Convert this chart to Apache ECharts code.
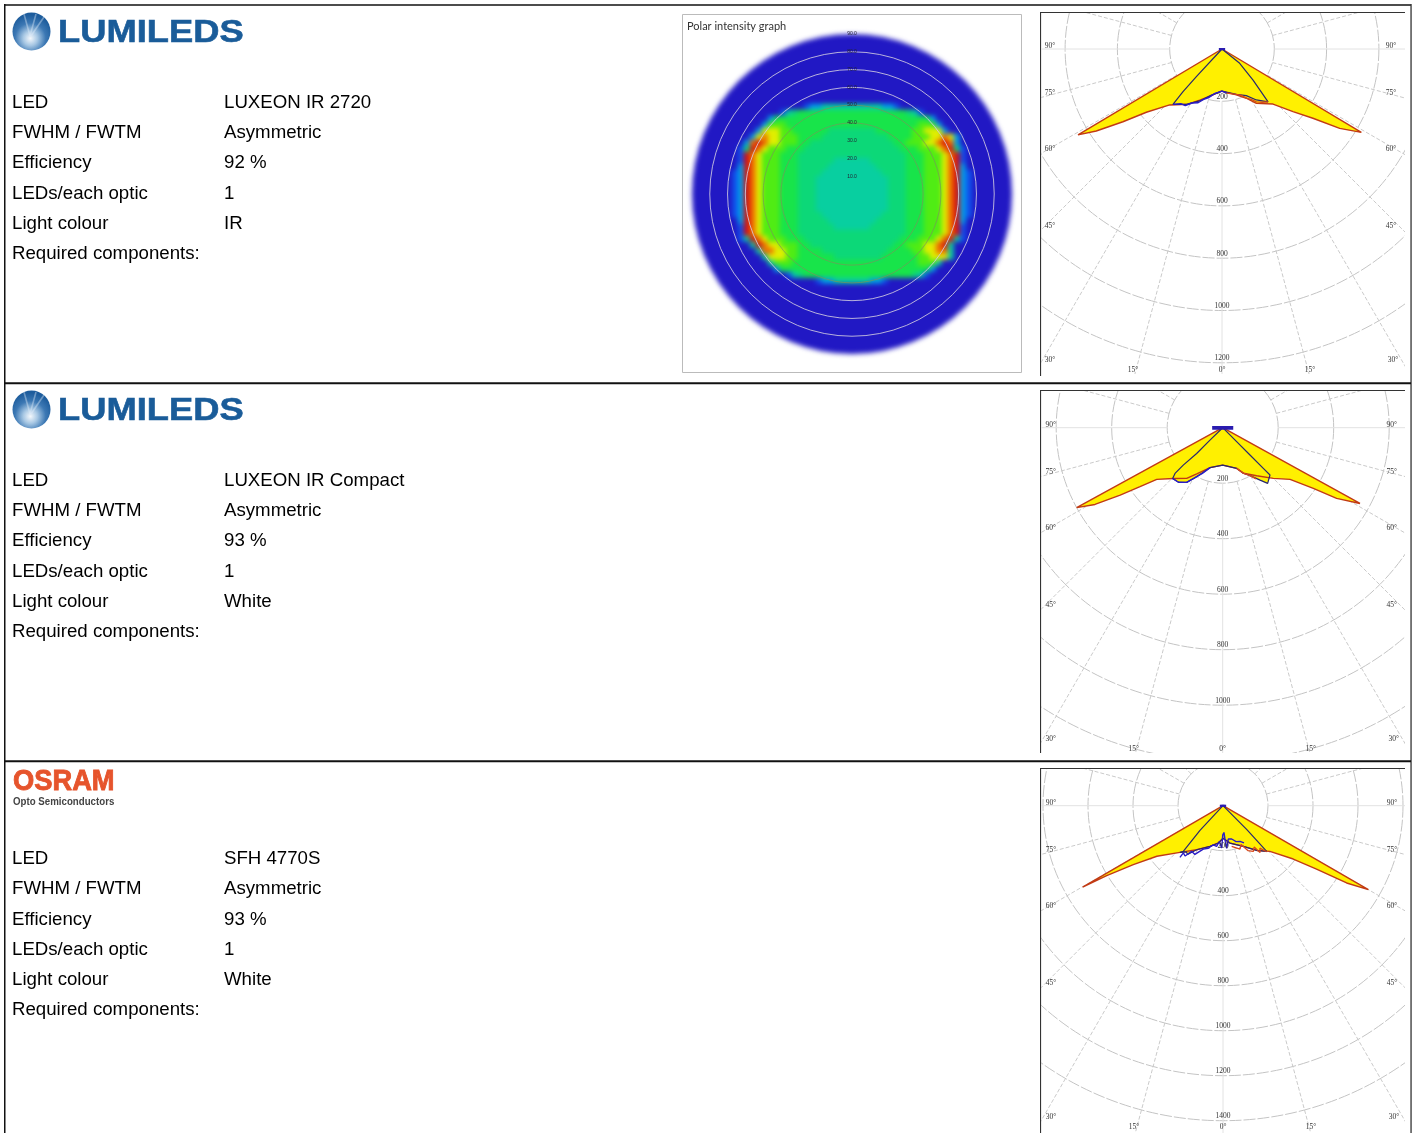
<!DOCTYPE html>
<html><head><meta charset="utf-8">
<style>
html,body{margin:0;padding:0;background:#fff;overflow:hidden}
.c{position:absolute}
</style>
<script src="https://cdn.jsdelivr.net/npm/echarts@6/dist/echarts.min.js"></script>
</head><body>
<div id="page" class="c" style="left:0;top:0;width:1415px;height:1133px"></div>
<div id="heat" class="c" style="left:682px;top:14px;width:340px;height:359px;filter:blur(2.4px)"></div>
<div id="heatTop" class="c" style="left:682px;top:14px;width:340px;height:359px;filter:blur(.5px)"></div>
<div id="p1" class="c" style="left:1041px;top:13px;width:364px;height:361px;filter:blur(.6px)"></div>
<div id="p2" class="c" style="left:1041px;top:391px;width:364px;height:362px;filter:blur(.6px)"></div>
<div id="p3" class="c" style="left:1041px;top:769px;width:364px;height:364px;filter:blur(.6px)"></div>
<script>
// ---------- table text ----------
const fieldLabels = ['LED','FWHM / FWTM','Efficiency','LEDs/each optic','Light colour','Required components:'];
const ledValues = [
  ['LUXEON IR 2720','Asymmetric','92 %','1','IR'],
  ['LUXEON IR Compact','Asymmetric','93 %','1','White'],
  ['SFH 4770S','Asymmetric','93 %','1','White']
];
// ---------- polar curves, each point [intensity cd, angle deg] ----------
const p1Outer = [[0,-59.2],[641,-59.2],[574,-56.9],[470,-53.7],[377,-50.1],[293,-43.1],[248,-31.6],[213,-23.6],[183,-12.9],[161,-0.9],[184,17.3],[210,26.3],[246,32.3],[287,42.8],[362,48.6],[437,52.7],[543,56],[621,59.1],[0,59.1]];
const p1Inner = [[0,-42],[144,-42.9],[221,-42.4],[283,-41.5],[252,-32.8],[216,-23.2],[181,-13],[161,0],[182,17.5],[201,27.5],[235,34],[268,41.1],[168,45],[87,51],[0,52]];
const p1Blue  = [[283,-41.5],[262,-37],[258,-33],[236,-29],[225,-24],[205,-20],[192,-15],[172,-9],[161,0],[170,6]];
const p1Warm  = [[170,6],[182,17.5],[190,22],[212,27],[222,30],[241,33],[255,37],[268,41.1]];
const p1Apex  = [[12,-88],[0,0],[12,88]];
const p1Rings = [200,400,600,800,1000,1200];
const p1Ticks = [200,400,600,800,1000,1200];

const p2Outer = [[0,-61.3],[600,-61.3],[537,-59],[442,-56.7],[366,-54.5],[302,-51.9],[255,-44.2],[224,-35.4],[191,-29.3],[151,-17.6],[135,0],[155,19],[180,24.4],[212,35.3],[258,45],[306,52.5],[393,56.2],[483,58.2],[565,61.1],[0,61.1]];
const p2Inner = [[0,-46],[64,-45.8],[132,-45.3],[196,-46.5],[238,-46.2],[257,-44.6],[253,-39],[236,-33.4],[206,-29],[151,-17.6],[135,0],[155,19],[180,24.4],[199,29.7],[232,35.5],[258,38.9],[241,45],[207,45],[139,45],[71,45],[0,45]];
const p2Blue  = [[257,-44.6],[253,-39],[236,-33.4],[206,-29],[180,-24],[151,-17.6]];
const p2Warm  = [[155,19],[180,24.4],[199,29.7],[220,33]];
const p2Apex  = [[38,-89],[0,0],[38,89]];
const p2Rings = [200,400,600,800,1000,1200];
const p2Ticks = [200,400,600,800,1000];

const p3Outer = [[0,-59.9],[721,-59.9],[603,-59],[477,-56.7],[370,-52.6],[282,-42.7],[228,-30.9],[190,-17.7],[167,-7.1],[145,0],[169,10.6],[202,26.6],[249,37],[291,45.8],[392,52.8],[502,55.9],[648,58],[746,60],[0,60]];
const p3Inner = [[0,-43],[150,-43],[269,-41],[282,-42.7],[262,-38.5],[268,-36],[228,-30.9],[190,-17.7],[167,-7.1],[145,0],[169,10.6],[202,26.6],[249,37],[281,43.7],[150,45],[0,45]];
const p3Blue  = [[299,-39.8],[274,-40],[280,-37],[246,-34.5],[250,-30],[212,-24.4],[200,-19],[179,-13.9],[183,-8.9],[160,-5.9],[188,-1.8],[129,-0.4],[119,2],[159,3.7],[190,5],[150,9],[153,14.6],[170,20],[176,25.5],[190,29.4]];
const p3Warm  = [[185,12],[207,21.4],[190,25],[228,29],[244,33.6],[230,37],[265,38.4],[250,41],[282,43.5]];
const p3Apex  = [[14,-88],[0,0],[14,88]];
const p3Rings = [200,400,600,800,1000,1200,1400];
const p3Ticks = [200,400,600,800,1000,1200,1400];

const rayAngles  = [-135,-120,-105,-75,-60,-45,-30,-15,15,30,45,60,75,105,120,135];
const axisAngles = [-90,0,90];
const angleTickText = ['90°','75°','60°','45°','30°','15°','0°','15°','30°','45°','60°','75°','90°'];

// ---------- polar intensity map, one digit per cell: 0 blue ... 9 red ----------
const intensityRows = [
 '0000000000000000000000000000000000000000',
 '0000000000001223333333333221000000000000',
 '0000000013455555555555555555543100000000',
 '0000002555555555555555555555555552000000',
 '0000026665555555555555555555555666200000',
 '0000277766555555444444445555556677720000',
 '0002787766655554444444444455556667787200',
 '0028987766655444444444444445566677898200',
 '0149876665554444444444444444555666789410',
 '0198766655544444444444444444455566678910',
 '0198766655544444433333344444455566678910',
 '0298766655544444333333334444455566678920',
 '1298766655544443333333333444455566678921',
 '1298766655544433333333333344455566678921',
 '1298766655544433333333333344455566678921',
 '1298766655544433333333333344455566678921',
 '1298766655544433333333333344455566678921',
 '1298766655544433333333333344455566678921',
 '1298766655544433333333333344455566678921',
 '1298766655544443333333333444455566678921',
 '0298766655544444333333334444455566678920',
 '0198766655544444433333344444455566678910',
 '0198766655544444444444444444455566678910',
 '0139876665554444444444444444555666789310',
 '0003987766655444444444444445566677893000',
 '0000388776655554444444444455556677883000',
 '0000037776655555544444444555555667773000',
 '0000003666555555555555555555555666300000',
 '0000000255555555555555555555555552000000',
 '0000000001345555555555555555554310000000',
 '0000000000000012233333322100000000000000',
 '0000000000000000000000000000000000000000'
];
const mapLevels = ['#2118c4','#1050ec','#00a0e8','#08cfa0','#0cd878','#18e44a','#50ec14','#e0ee00','#ee6e00','#d41010'];
const mapRings = [40,50,60,70,80];
const mapTicks = [10,20,30,40,50,60,70,80,90];

// ---------- page backdrop ----------
const FONT='"Liberation Sans",Arial,sans-serif';
const rowsY=[[103,133,163,194,224,254],[481,511,541,572,602,632],[859,889,920,950,980,1010]];
const g=[];
function bar(x,y,w,h,c){g.push({type:'rect',shape:{x,y,width:w,height:h},style:{fill:c||'#111'}});}
bar(4,4.3,1407,1.4);bar(4,4,1.5,1129);bar(1410.4,4,1.3,1129,'#333');bar(4,382.2,1407,2);bar(4,760.2,1407,2);
[12,390,768].forEach((y,i)=>{bar(1040,y,365,1.1,'#333');bar(1040,y,1.1,[364,363,365][i],'#333');});
rowsY.forEach((ys,i)=>{
  ys.forEach((y,j)=>{
    g.push({type:'text',x:12,y,style:{text:fieldLabels[j],font:'18.67px '+FONT,fill:'#000',verticalAlign:'middle'}});
    if(j<5) g.push({type:'text',x:224,y,style:{text:ledValues[i][j],font:'18.67px '+FONT,fill:'#000',verticalAlign:'middle'}});
  });
});
[0,378].forEach(d=>{
  g.push({type:'circle',shape:{cx:31.5,cy:31.5+d,r:19},style:{fill:new echarts.graphic.RadialGradient(.47,.68,.62,[{offset:0,color:'#f4f8fc'},{offset:.3,color:'#a8c8e4'},{offset:.65,color:'#3c78b4'},{offset:1,color:'#1d5c9c'}])}});
  [[31,36,44,17],[30,36,36,14],[30,36,24,14]].forEach(s=>g.push({type:'line',shape:{x1:s[0],y1:s[1]+d,x2:s[2],y2:s[3]+d},style:{stroke:'rgba(225,238,250,.4)',lineWidth:1.6}}));
  g.push({type:'text',x:58,y:33.5+d,scaleX:1.135,style:{text:'LUMILEDS',font:'bold 32px '+FONT,fill:'#1a5c99',stroke:'#1a5c99',lineWidth:.6,verticalAlign:'middle'}});
});
g.push({type:'text',x:13,y:782,scaleX:.91,style:{text:'OSRAM',font:'bold 30px '+FONT,fill:'#e6542c',stroke:'#e6542c',lineWidth:.9,verticalAlign:'middle'}});
g.push({type:'text',x:13,y:802,scaleX:.97,style:{text:'Opto Semiconductors',font:'bold 10px '+FONT,fill:'#444',verticalAlign:'middle'}});
echarts.init(document.getElementById('page')).setOption({animation:false,graphic:g});

// ---------- luminous-intensity panels ----------
const hide={axisLine:{show:false},axisTick:{show:false},axisLabel:{show:false},splitLine:{show:false}};
const tickPlace=[[169,-3],[169,44],[169,100],[169,177],[171,311],[88,321],[0,321],[-89,321],[-172,311],[-172,177],[-172,100],[-172,44],[-172,-3]];
function panel(id,pxPerCd,center,rings,ticks,outer,inner,blue,warm,apex){
  const M=1800;
  const curve=(pts,color,w,z)=>({type:'line',coordinateSystem:'polar',data:pts,symbol:'none',silent:true,z:z,lineStyle:{color:color,width:w}});
  echarts.init(document.getElementById(id)).setOption({
    animation:false,
    polar:{center:center,radius:M*pxPerCd},
    angleAxis:Object.assign({type:'value',min:-180,max:180,startAngle:90,clockwise:false},hide),
    radiusAxis:Object.assign({type:'value',min:0,max:M},hide),
    series:[
      {type:'custom',coordinateSystem:'polar',silent:true,z:1,clip:false,data:rings.map(r=>[r,0]),
       renderItem:(p,api)=>{const o=api.coord([0,0]),e=api.coord([api.value(0),0]);
         return {type:'circle',shape:{cx:o[0],cy:o[1],r:Math.hypot(e[0]-o[0],e[1]-o[1])},style:{fill:'none',stroke:'#c4c4c4',lineWidth:1,lineDash:[12,2]}};}},
      {type:'custom',coordinateSystem:'polar',silent:true,z:1,data:rayAngles.map(a=>[M,a]),
       renderItem:(p,api)=>{const a=api.coord([rings[0],api.value(1)]),b=api.coord([api.value(0),api.value(1)]);
         return {type:'line',shape:{x1:a[0],y1:a[1],x2:b[0],y2:b[1]},style:{stroke:'#cacaca',lineWidth:1,lineDash:[4,2]}};}},
      {type:'custom',coordinateSystem:'polar',silent:true,z:1,data:axisAngles.map(a=>[M,a]),
       renderItem:(p,api)=>{const a=api.coord([rings[0],api.value(1)]),b=api.coord([api.value(0),api.value(1)]);
         return {type:'line',shape:{x1:a[0],y1:a[1],x2:b[0],y2:b[1]},style:{stroke:'#e2e2e2',lineWidth:1}};}},
      {type:'custom',coordinateSystem:'polar',silent:true,z:2,data:[[0,0]],
       renderItem:(p,api)=>({type:'polygon',shape:{points:outer.map(q=>api.coord(q))},style:{fill:'#fff000'}})},
      {type:'custom',coordinateSystem:'polar',silent:true,z:2,data:[[0,0]],
       renderItem:(p,api)=>({type:'polygon',shape:{points:inner.map(q=>api.coord(q))},style:{fill:'#fff000'}})},
      curve(outer,'#c23a14',1.4,3),
      curve(inner,'#28286e',1.2,4),
      curve(blue,'#2a1cc8',1.4,5),
      curve(warm,'#d8481a',1.3,5),
      curve(apex,'#2a1cb0',id==='p2'?3.6:2.2,6),
      {type:'custom',coordinateSystem:'polar',silent:true,z:7,data:ticks.map(r=>[r,0]),
       renderItem:(p,api)=>{const c=api.coord([api.value(0),0]);
         return {type:'text',x:c[0],y:c[1]-4.5,style:{text:String(api.value(0)),font:'7.5px "Liberation Serif"',fill:'#333',align:'center',verticalAlign:'middle'}};}},
      {type:'custom',coordinateSystem:'polar',silent:true,z:7,data:angleTickText.map((t,i)=>[0,0]),
       renderItem:(p,api)=>{const o=api.coord([0,0]),q=tickPlace[p.dataIndex];
         return {type:'text',x:o[0]+q[0],y:o[1]+q[1],style:{text:angleTickText[p.dataIndex],font:'7.5px "Liberation Serif"',fill:'#333',align:'center',verticalAlign:'middle'}};}}
    ]
  });
}
panel('p1',.2615,[181,36],p1Rings,p1Ticks,p1Outer,p1Inner,p1Blue,p1Warm,p1Apex);
panel('p2',.2775,[181.7,36.7],p2Rings,p2Ticks,p2Outer,p2Inner,p2Blue,p2Warm,p2Apex);
panel('p3',.225,[182,36.7],p3Rings,p3Ticks,p3Outer,p3Inner,p3Blue,p3Warm,p3Apex);

// ---------- polar intensity map ----------
const cols=intensityRows[0].split('').map((_,i)=>i), rows=intensityRows.map((_,i)=>i);
const cells=[];intensityRows.forEach((s,r)=>s.split('').forEach((v,c)=>cells.push([c,r,+v])));
echarts.init(document.getElementById('heat')).setOption({
  animation:false,
  polar:{center:[170,180],radius:160},
  angleAxis:Object.assign({type:'value',min:0,max:360},hide),
  radiusAxis:Object.assign({type:'value',min:0,max:90},hide),
  grid:{left:50,top:84,width:240,height:192},
  xAxis:Object.assign({type:'category',data:cols},hide),
  yAxis:Object.assign({type:'category',data:rows,inverse:true},hide),
  visualMap:{show:false,min:0,max:9,seriesIndex:1,inRange:{color:mapLevels}},
  series:[
    {type:'custom',coordinateSystem:'polar',silent:true,z:1,data:[[90,0]],
     renderItem:(p,api)=>{const o=api.coord([0,0]),e=api.coord([90,0]);
       return {type:'circle',shape:{cx:o[0],cy:o[1],r:Math.hypot(e[0]-o[0],e[1]-o[1])},style:{fill:mapLevels[0]}};}},
    {type:'heatmap',data:cells,z:2,silent:true,itemStyle:{borderWidth:0}}
  ]
});
echarts.init(document.getElementById('heatTop')).setOption({
  animation:false,
  title:{text:'Polar intensity graph',left:5,top:7,padding:0,textStyle:{fontFamily:'Lato',fontSize:11,fontWeight:'normal',color:'#333'}},
  graphic:[{type:'rect',shape:{x:.5,y:.5,width:339,height:358},style:{fill:'none',stroke:'#bbb',lineWidth:1}}],
  polar:{center:[170,180],radius:160},
  angleAxis:Object.assign({type:'value',min:0,max:360,startAngle:90},hide),
  radiusAxis:Object.assign({type:'value',min:0,max:90},hide),
  series:[
    {type:'custom',coordinateSystem:'polar',silent:true,data:mapRings.map(r=>[r,0]),
     renderItem:(p,api)=>{const o=api.coord([0,0]),e=api.coord([api.value(0),0]);
       return {type:'circle',shape:{cx:o[0],cy:o[1],r:Math.hypot(e[0]-o[0],e[1]-o[1])},style:{fill:'none',stroke:api.value(0)<60?'rgba(120,150,90,.7)':'rgba(210,205,225,.85)',lineWidth:1}};}},
    {type:'custom',coordinateSystem:'polar',silent:true,data:mapTicks.map(r=>[r,0]),
     renderItem:(p,api)=>{const c=api.coord([api.value(0),0]);
       return {type:'text',x:c[0],y:c[1],style:{text:api.value(0).toFixed(1),font:'5px "Liberation Sans"',fill:'#223',align:'center',verticalAlign:'middle'}};}}
  ]
});
</script>
</body></html>
